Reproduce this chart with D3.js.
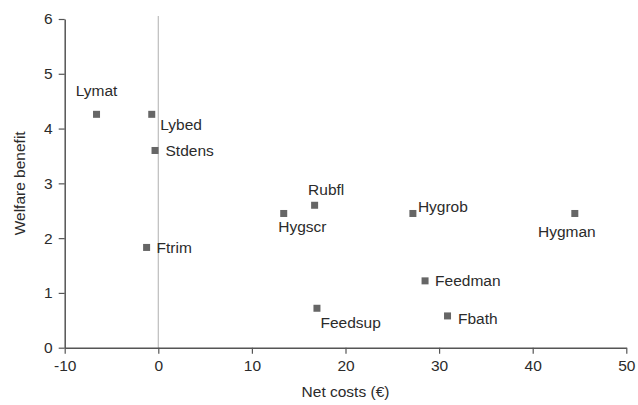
<!DOCTYPE html>
<html>
<head>
<meta charset="utf-8">
<script src="https://cdn.jsdelivr.net/npm/d3@7"></script>
<style>
  html, body { margin: 0; padding: 0; background: #fff; }
  svg { display: block; }
  text { font-family: "Liberation Sans", Arial, Helvetica, sans-serif; fill: #2b2b2b; }
</style>
</head>
<body>
<svg id="chart" width="638" height="405"></svg>
<script>
// ---- data ----
const labels = ["Lymat", "Lybed", "Stdens", "Ftrim", "Hygscr", "Rubfl", "Feedsup", "Hygrob", "Hygman", "Feedman", "Fbath"];
const netCosts = [-6.6, -0.7, -0.35, -1.25, 13.4, 16.7, 16.95, 27.2, 44.5, 28.5, 30.9];
const welfareBenefit = [4.26, 4.26, 3.6, 1.83, 2.45, 2.6, 0.72, 2.45, 2.45, 1.22, 0.58];
const xTicks = [-10, 0, 10, 20, 30, 40, 50];
const yTicks = [0, 1, 2, 3, 4, 5, 6];
const xTitle = "Net costs (€)";
const yTitle = "Welfare benefit";

// label placement (pixel offsets relative to marker; anchor)
const labelPlacement = {
  Lymat:   { dx: 0,   dy: -18, anchor: "middle" },
  Lybed:   { dx: 8.5, dy: 15.5, anchor: "start" },
  Stdens:  { dx: 10.5, dy: 6,  anchor: "start" },
  Ftrim:   { dx: 10,  dy: 5.5, anchor: "start" },
  Hygscr:  { dx: -5.5, dy: 19, anchor: "start" },
  Rubfl:   { dx: -6.5, dy: -10, anchor: "start" },
  Feedsup: { dx: 3.5, dy: 19.5, anchor: "start" },
  Hygrob:  { dx: 5,   dy: -1.5, anchor: "start" },
  Hygman:  { dx: -8,  dy: 24,  anchor: "middle" },
  Feedman: { dx: 10,  dy: 5.5, anchor: "start" },
  Fbath:   { dx: 10.5, dy: 8,  anchor: "start" }
};

const W = 638, H = 405;
const FS = "15.5px";
const margin = { top: 19, right: 11.7, bottom: 57.3, left: 64.7 };
const svg = d3.select("#chart");
const x = d3.scaleLinear().domain([-10, 50]).range([margin.left, W - margin.right]);
const y = d3.scaleLinear().domain([0, 6]).range([H - margin.bottom, margin.top]);

const axisColor = "#555";

// zero reference line
svg.append("line")
  .attr("x1", x(0)).attr("x2", x(0))
  .attr("y1", y(6) - 3).attr("y2", y(0))
  .attr("stroke", "#bdbdbd").attr("stroke-width", 1.2);

// x axis
const gx = svg.append("g")
  .attr("transform", `translate(0,${y(0)})`)
  .call(d3.axisBottom(x).tickValues(xTicks).tickSize(6).tickSizeOuter(0).tickPadding(6).tickFormat(d3.format("d")));
gx.select(".domain").attr("stroke", axisColor).attr("stroke-width", 1.5);
gx.selectAll(".tick line").attr("stroke", axisColor).attr("stroke-width", 1.2);
gx.selectAll(".tick text").style("font-size", FS).attr("fill", "#2b2b2b").text(d => d < 0 ? "-" + Math.abs(d) : d);

// y axis
const gy = svg.append("g")
  .attr("transform", `translate(${x(-10)},0)`)
  .call(d3.axisLeft(y).tickValues(yTicks).tickSize(6).tickSizeOuter(0).tickPadding(6).tickFormat(d3.format("d")));
gy.select(".domain").attr("stroke", axisColor).attr("stroke-width", 1.5);
gy.selectAll(".tick line").attr("stroke", axisColor).attr("stroke-width", 1.2);
gy.selectAll(".tick text").style("font-size", FS).attr("fill", "#2b2b2b");

// axis titles
svg.append("text")
  .attr("x", (x(-10) + x(50)) / 2).attr("y", 397)
  .attr("text-anchor", "middle").style("font-size", FS)
  .text(xTitle);
svg.append("text")
  .attr("transform", `translate(25,${(y(0) + y(6)) / 2}) rotate(-90)`)
  .attr("text-anchor", "middle").style("font-size", FS)
  .text(yTitle);

// points
const pts = labels.map((l, i) => ({ label: l, x: netCosts[i], y: welfareBenefit[i] }));
const size = 7;
svg.append("g").selectAll("rect").data(pts).join("rect")
  .attr("x", d => x(d.x) - size / 2)
  .attr("y", d => y(d.y) - size / 2)
  .attr("width", size).attr("height", size)
  .attr("fill", "#666");

svg.append("g").selectAll("text").data(pts).join("text")
  .attr("x", d => x(d.x) + labelPlacement[d.label].dx)
  .attr("y", d => y(d.y) + labelPlacement[d.label].dy)
  .attr("text-anchor", d => labelPlacement[d.label].anchor)
  .style("font-size", FS)
  .text(d => d.label);
</script>
</body>
</html>
